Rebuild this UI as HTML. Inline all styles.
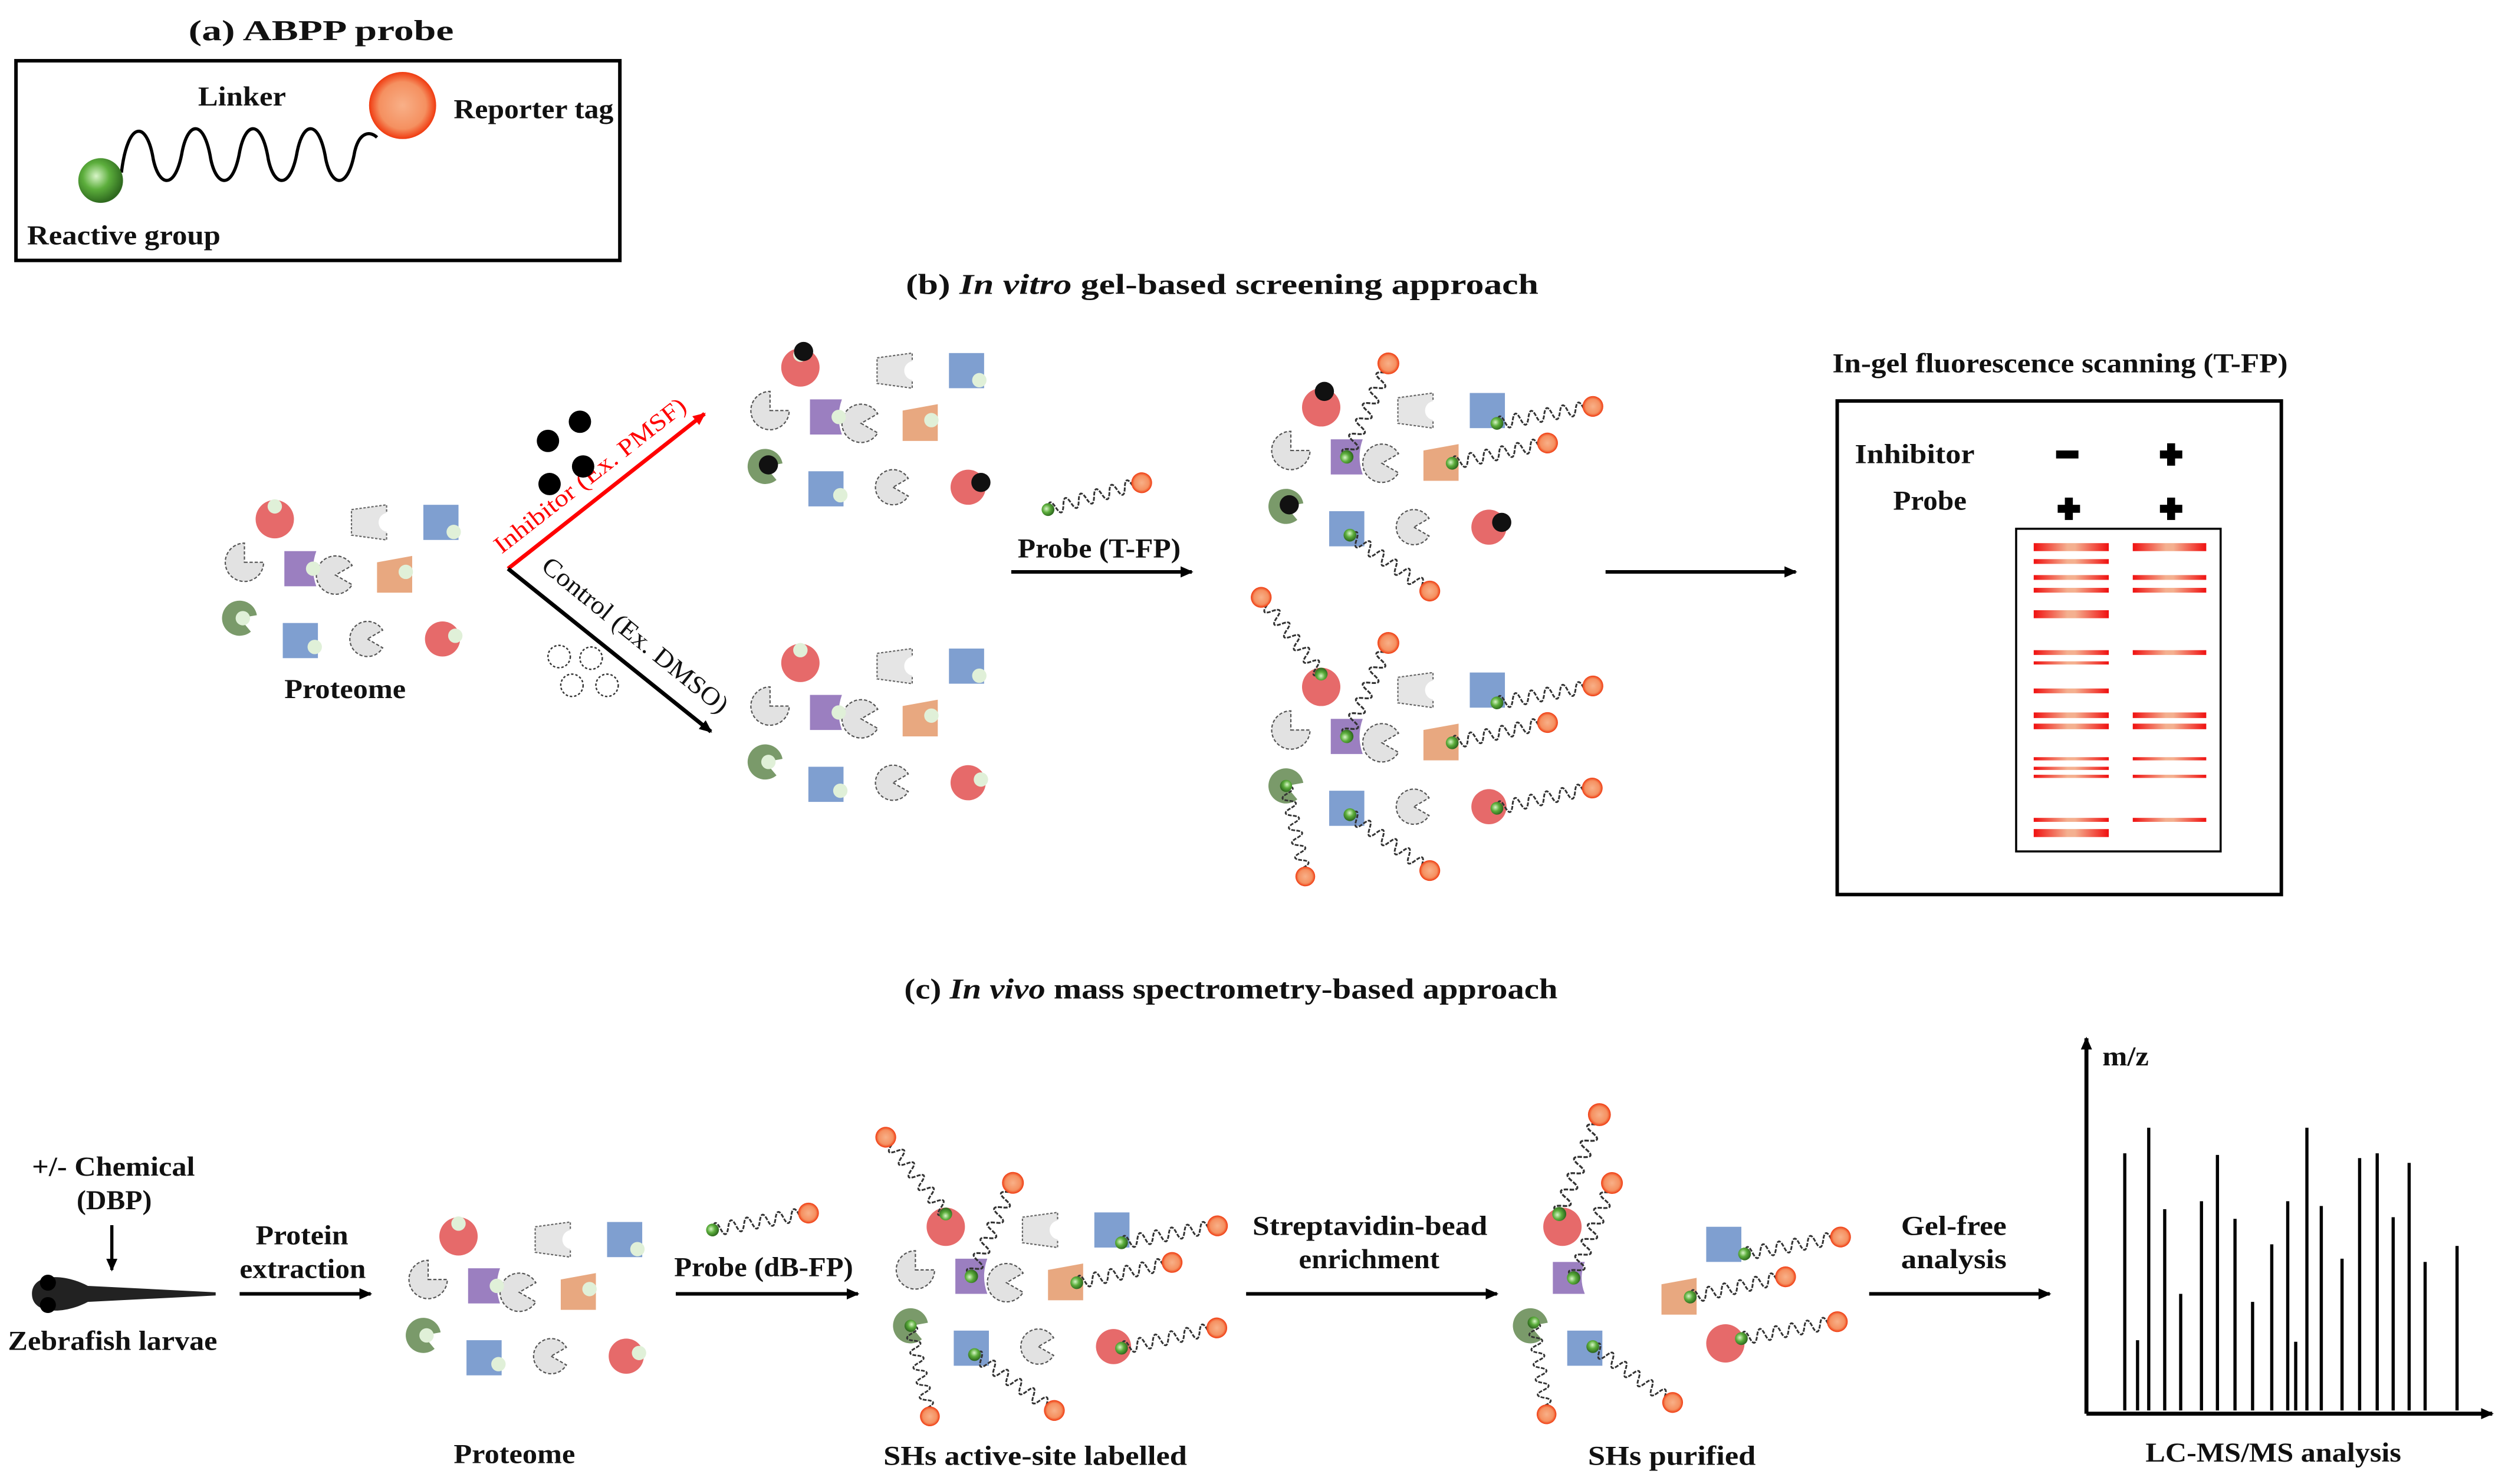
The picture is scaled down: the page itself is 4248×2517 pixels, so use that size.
<!DOCTYPE html>
<html><head><meta charset="utf-8"><style>
html,body{margin:0;padding:0;background:#fff;}
svg{display:block;}
text{font-family:"Liberation Serif",serif;font-weight:bold;fill:#111;}
</style></head><body>
<svg width="4248" height="2517" viewBox="0 0 1568 929" xmlns="http://www.w3.org/2000/svg">
<defs>
<radialGradient id="gg" cx="0.4" cy="0.4" r="0.6"><stop offset="0" stop-color="#d8f5c8"/><stop offset="0.5" stop-color="#5cae3c"/><stop offset="1" stop-color="#2f6a1f"/></radialGradient>
<radialGradient id="og" cx="0.5" cy="0.5" r="0.5"><stop offset="0" stop-color="#f8b088"/><stop offset="0.7" stop-color="#f59060"/><stop offset="1" stop-color="#f03a10"/></radialGradient>
<linearGradient id="band" x1="0" x2="1" y1="0" y2="0"><stop offset="0" stop-color="#f01010"/><stop offset="0.45" stop-color="#f4b090"/><stop offset="0.55" stop-color="#f4b090"/><stop offset="1" stop-color="#f01010"/></linearGradient>
<marker id="ah" markerWidth="8" markerHeight="8" refX="7" refY="4" orient="auto" markerUnits="userSpaceOnUse"><path d="M0,0.5 L8,4 L0,7.5 Z" fill="#000"/></marker>
<marker id="ahr" markerWidth="8" markerHeight="8" refX="7" refY="4" orient="auto" markerUnits="userSpaceOnUse"><path d="M0,0.5 L8,4 L0,7.5 Z" fill="#f00"/></marker>
<g id="pr">
<path d="M0,0 q2.5,-8 5,0 t5,0 t5,0 t5,0 t5,0 t5,0 t5,0 t5,0 t5,0 t5,0 t5,0" fill="none" stroke="#333" stroke-width="1.1" stroke-dasharray="2.5 0.8"/>
<circle cx="61" cy="0" r="6.5" fill="url(#og)"/>
<circle cx="0" cy="0" r="4" fill="url(#gg)"/>
</g>
<g id="colored">
<circle cx="0" cy="0" r="12" fill="#e66a6a"/>
<rect x="93" y="-9" width="22" height="22" fill="#7f9fd0"/>
<path d="M6,20 L26,20 Q22,31 26,42 L6,42 Z" fill="#9b7fc0"/>
<path d="M64,27 L86,23 L86,46 L64,46 Z" fill="#e8a880"/>
<path d="M-22,62 L-12.5,67.5 A11,11 0 1 1 -12.5,56.5 Z" fill="#7a9a6a" transform="rotate(20 -22 62)"/>
<rect x="5" y="65" width="22" height="22" fill="#7f9fd0"/>
<circle cx="105" cy="75" r="11" fill="#e66a6a"/>
</g>
<g id="gray">
<path d="M48,-6 L70,-9 L70,13 L48,10 Z" fill="#e5e5e5" stroke="#666" stroke-width="0.8" stroke-dasharray="1.5 1"/>
<circle cx="71" cy="2" r="6" fill="#fff"/>
<path d="M-19,27 L-7,27 A12,12 0 1 1 -19,15 Z" fill="#e2e2e2" stroke="#555" stroke-width="0.8" stroke-dasharray="2 1.2"/>
<path d="M38,35 L48.4,41 A12,12 0 1 1 48.4,29 Z" fill="#e2e2e2" stroke="#555" stroke-width="0.8" stroke-dasharray="2 1.2"/>
<path d="M58,75 L67.5,80.5 A11,11 0 1 1 67.5,69.5 Z" fill="#e2e2e2" stroke="#555" stroke-width="0.8" stroke-dasharray="2 1.2"/>
</g>
<g id="dots">
<circle cx="0" cy="-8" r="4.5" fill="#e0f0d8"/><circle cx="112" cy="8" r="4.5" fill="#e0f0d8"/>
<circle cx="24" cy="31" r="4.5" fill="#e0f0d8"/><circle cx="82" cy="33" r="4.5" fill="#e0f0d8"/>
<circle cx="-20" cy="62" r="4.5" fill="#e0f0d8"/><circle cx="25" cy="80" r="4.5" fill="#e0f0d8"/>
<circle cx="113" cy="73" r="4.5" fill="#e0f0d8"/>
</g>
<g id="prot"><use href="#colored"/><use href="#gray"/><use href="#dots"/></g>
<g id="lab">
<use href="#colored"/><use href="#gray"/>
<use href="#pr" transform="translate(0,-8) rotate(-128)"/>
<use href="#pr" transform="translate(16,31) rotate(-66) scale(1.05)"/>
<use href="#pr" transform="translate(110,10) rotate(-10)"/>
<use href="#pr" transform="translate(82,35) rotate(-12)"/>
<use href="#pr" transform="translate(18,80) rotate(35)"/>
<use href="#pr" transform="translate(110,76) rotate(-12)"/>
<use href="#pr" transform="translate(-22,62) rotate(78) scale(0.95)"/>
</g>
<g id="inh">
<use href="#colored"/><use href="#gray"/>
<use href="#pr" transform="translate(16,31) rotate(-66) scale(1.05)"/>
<use href="#pr" transform="translate(110,10) rotate(-10)"/>
<use href="#pr" transform="translate(82,35) rotate(-12)"/>
<use href="#pr" transform="translate(18,80) rotate(35)"/>
<circle cx="2" cy="-10" r="6" fill="#111"/><circle cx="-20" cy="61" r="6" fill="#111"/><circle cx="113" cy="72" r="6" fill="#111"/>
</g>
<g id="inh0">
<use href="#colored"/><use href="#gray"/>
<circle cx="0" cy="-8" r="4.5" fill="#e0f0d8"/><circle cx="112" cy="8" r="4.5" fill="#e0f0d8"/>
<circle cx="24" cy="31" r="4.5" fill="#e0f0d8"/><circle cx="82" cy="33" r="4.5" fill="#e0f0d8"/>
<circle cx="25" cy="80" r="4.5" fill="#e0f0d8"/>
<circle cx="2" cy="-10" r="6" fill="#111"/><circle cx="-20" cy="61" r="6" fill="#111"/><circle cx="113" cy="72" r="6" fill="#111"/>
</g>
</defs>

<!-- (a) -->
<text x="118" y="25" font-size="18" textLength="166" lengthAdjust="spacingAndGlyphs">(a) ABPP probe</text>
<rect x="10" y="38" width="378" height="125" fill="none" stroke="#000" stroke-width="2.2"/>
<text x="124" y="66" font-size="17" textLength="55" lengthAdjust="spacingAndGlyphs">Linker</text>
<text x="284" y="74" font-size="17" textLength="100" lengthAdjust="spacingAndGlyphs">Reporter tag</text>
<text x="17" y="153" font-size="17" textLength="121" lengthAdjust="spacingAndGlyphs">Reactive group</text>
<path d="M76,108 C80,75 92,75 96,100 C100,118 110,118 114,95 C118,75 128,75 132,100 C136,118 146,118 150,95 C154,75 164,75 168,100 C172,118 182,118 186,95 C190,75 200,75 204,100 C208,118 218,118 222,95 C225,82 232,82 236,86" fill="none" stroke="#000" stroke-width="2"/>
<circle cx="63" cy="113" r="14" fill="url(#gg)"/>
<circle cx="252" cy="66" r="21" fill="url(#og)"/>

<!-- (b) -->
<text x="567" y="184" font-size="18" textLength="396" lengthAdjust="spacingAndGlyphs">(b) <tspan font-style="italic">In vitro</tspan> gel-based screening approach</text>
<use href="#prot" transform="translate(172,325)"/>
<text x="178" y="437" font-size="17" textLength="76" lengthAdjust="spacingAndGlyphs">Proteome</text>
<line x1="318" y1="356" x2="441" y2="259" stroke="#f00" stroke-width="2.5" marker-end="url(#ahr)"/>
<line x1="318" y1="356" x2="445" y2="458" stroke="#000" stroke-width="2.5" marker-end="url(#ah)"/>
<text transform="translate(314,347) rotate(-38)" font-size="15" textLength="148" lengthAdjust="spacingAndGlyphs" style="font-weight:normal;fill:#f00">Inhibitor (Ex. PMSF)</text>
<text transform="translate(338,356) rotate(39)" font-size="16" textLength="145" lengthAdjust="spacingAndGlyphs" style="font-weight:normal">Control (Ex. DMSO)</text>
<circle cx="343" cy="276" r="7" fill="#000"/><circle cx="363" cy="264" r="7" fill="#000"/><circle cx="365" cy="292" r="7" fill="#000"/><circle cx="344" cy="303" r="7" fill="#000"/>
<g fill="none" stroke="#333" stroke-dasharray="1.5 1.2" stroke-width="0.9"><circle cx="350" cy="411" r="7"/><circle cx="370" cy="412" r="7"/><circle cx="358" cy="429" r="7"/><circle cx="380" cy="429" r="7"/></g>
<use href="#inh0" transform="translate(501,230)"/>
<use href="#prot" transform="translate(501,415)"/>
<use href="#pr" transform="translate(656,319) rotate(-16)"/>
<line x1="633" y1="358" x2="746" y2="358" stroke="#000" stroke-width="2.2" marker-end="url(#ah)"/>
<text x="637" y="349" font-size="17" textLength="102" lengthAdjust="spacingAndGlyphs">Probe (T-FP)</text>
<use href="#inh" transform="translate(827,255)"/>
<use href="#lab" transform="translate(827,430)"/>
<line x1="1005" y1="358" x2="1124" y2="358" stroke="#000" stroke-width="2.2" marker-end="url(#ah)"/>
<text x="1147" y="233" font-size="17" textLength="285" lengthAdjust="spacingAndGlyphs">In-gel fluorescence scanning (T-FP)</text>
<rect x="1150" y="251" width="278" height="309" fill="none" stroke="#000" stroke-width="2.2"/>
<text x="1161" y="290" font-size="17" textLength="75" lengthAdjust="spacingAndGlyphs">Inhibitor</text>
<text x="1185" y="319" font-size="17" textLength="46" lengthAdjust="spacingAndGlyphs">Probe</text>
<rect x="1287" y="282" width="14" height="5" fill="#000"/>
<g fill="#000"><rect x="1352" y="282" width="14" height="5"/><rect x="1356.5" y="277.5" width="5" height="14"/>
<rect x="1288" y="316" width="14" height="5"/><rect x="1292.5" y="311.5" width="5" height="14"/>
<rect x="1352" y="316" width="14" height="5"/><rect x="1356.5" y="311.5" width="5" height="14"/></g>
<rect x="1262" y="331" width="128" height="202" fill="none" stroke="#000" stroke-width="1.3"/>
<g fill="url(#band)">
<rect x="1273" y="340" width="47" height="5"/><rect x="1273" y="350" width="47" height="3"/><rect x="1273" y="360" width="47" height="3"/><rect x="1273" y="368" width="47" height="3"/><rect x="1273" y="382" width="47" height="5"/>
<rect x="1273" y="407" width="47" height="3"/><rect x="1273" y="414" width="47" height="2"/><rect x="1273" y="431" width="47" height="3"/><rect x="1273" y="446" width="47" height="3.5"/><rect x="1273" y="453" width="47" height="3.5"/>
<rect x="1273" y="474" width="47" height="2"/><rect x="1273" y="480" width="47" height="2"/><rect x="1273" y="485" width="47" height="2"/><rect x="1273" y="512" width="47" height="2.5"/><rect x="1273" y="519" width="47" height="5"/>
<rect x="1335" y="340" width="46" height="5"/><rect x="1335" y="360" width="46" height="3"/><rect x="1335" y="368" width="46" height="3"/><rect x="1335" y="407" width="46" height="3"/>
<rect x="1335" y="446" width="46" height="3.5"/><rect x="1335" y="453" width="46" height="3.5"/><rect x="1335" y="474" width="46" height="2"/><rect x="1335" y="485" width="46" height="2"/><rect x="1335" y="512" width="46" height="2.5"/>
</g>

<!-- (c) -->
<text x="566" y="625" font-size="18" textLength="409" lengthAdjust="spacingAndGlyphs">(c) <tspan font-style="italic">In vivo</tspan> mass spectrometry-based approach</text>
<text x="20" y="736" font-size="17" textLength="102" lengthAdjust="spacingAndGlyphs">+/- Chemical</text>
<text x="48" y="757" font-size="17" textLength="47" lengthAdjust="spacingAndGlyphs">(DBP)</text>
<line x1="70" y1="767" x2="70" y2="795" stroke="#000" stroke-width="2" marker-end="url(#ah)"/>
<path d="M20,810 C20,797 40,797 55,805 L135,809 L135,811 L55,815 C40,823 20,823 20,810 Z" fill="#222"/>
<circle cx="30" cy="803" r="5" fill="#000"/><circle cx="30" cy="817" r="5" fill="#000"/>
<text x="5" y="845" font-size="17" textLength="131" lengthAdjust="spacingAndGlyphs">Zebrafish larvae</text>
<line x1="150" y1="810" x2="232" y2="810" stroke="#000" stroke-width="2.2" marker-end="url(#ah)"/>
<text x="160" y="779" font-size="17" textLength="58" lengthAdjust="spacingAndGlyphs">Protein</text>
<text x="150" y="800" font-size="17" textLength="79" lengthAdjust="spacingAndGlyphs">extraction</text>
<use href="#prot" transform="translate(287,774)"/>
<text x="284" y="916" font-size="17" textLength="76" lengthAdjust="spacingAndGlyphs">Proteome</text>
<use href="#pr" transform="translate(446,770) rotate(-10)"/>
<line x1="423" y1="810" x2="537" y2="810" stroke="#000" stroke-width="2.2" marker-end="url(#ah)"/>
<text x="422" y="799" font-size="17" textLength="112" lengthAdjust="spacingAndGlyphs">Probe (dB-FP)</text>
<use href="#lab" transform="translate(592,768)"/>
<text x="553" y="917" font-size="17" textLength="190" lengthAdjust="spacingAndGlyphs">SHs active-site labelled</text>
<line x1="780" y1="810" x2="937" y2="810" stroke="#000" stroke-width="2.2" marker-end="url(#ah)"/>
<text x="784" y="773" font-size="17" textLength="147" lengthAdjust="spacingAndGlyphs">Streptavidin-bead</text>
<text x="813" y="794" font-size="17" textLength="88" lengthAdjust="spacingAndGlyphs">enrichment</text>
<!-- purified -->
<g>
<circle cx="978" cy="768" r="12" fill="#e66a6a"/>
<path d="M972,790 L992,790 Q988,800 992,810 L972,810 Z" fill="#9b7fc0"/>
<path d="M958,830 L967.5,835.5 A11,11 0 1 1 967.5,824.5 Z" fill="#7a9a6a" transform="rotate(20 958 830)"/>
<rect x="981" y="833" width="22" height="22" fill="#7f9fd0"/>
<rect x="1068" y="768" width="22" height="22" fill="#7f9fd0"/>
<path d="M1040,804 L1062,800 L1062,823 L1040,823 Z" fill="#e8a880"/>
<circle cx="1080" cy="841" r="12" fill="#e66a6a"/>
<use href="#pr" transform="translate(976,760) rotate(-68) scale(1.1)"/>
<use href="#pr" transform="translate(985,800) rotate(-68) scale(1.05)"/>
<use href="#pr" transform="translate(1092,785) rotate(-10)"/>
<use href="#pr" transform="translate(1058,812) rotate(-12)"/>
<use href="#pr" transform="translate(1090,838) rotate(-10)"/>
<use href="#pr" transform="translate(960,828) rotate(82) scale(0.95)"/>
<use href="#pr" transform="translate(997,843) rotate(35)"/>
</g>
<text x="994" y="917" font-size="17" textLength="105" lengthAdjust="spacingAndGlyphs">SHs purified</text>
<line x1="1170" y1="810" x2="1283" y2="810" stroke="#000" stroke-width="2.2" marker-end="url(#ah)"/>
<text x="1190" y="773" font-size="17" textLength="66" lengthAdjust="spacingAndGlyphs">Gel-free</text>
<text x="1190" y="794" font-size="17" textLength="66" lengthAdjust="spacingAndGlyphs">analysis</text>
<line x1="1306" y1="885" x2="1306" y2="650" stroke="#000" stroke-width="2.5" marker-end="url(#ah)"/>
<line x1="1306" y1="885" x2="1560" y2="885" stroke="#000" stroke-width="2.5" marker-end="url(#ah)"/>
<text x="1316" y="667" font-size="17" textLength="29" lengthAdjust="spacingAndGlyphs">m/z</text>
<g stroke="#000" stroke-width="2">
<line x1="1330" y1="722" x2="1330" y2="883"/><line x1="1338" y1="839" x2="1338" y2="883"/><line x1="1345" y1="706" x2="1345" y2="883"/><line x1="1355" y1="757" x2="1355" y2="883"/><line x1="1365" y1="810" x2="1365" y2="883"/><line x1="1378" y1="752" x2="1378" y2="883"/><line x1="1388" y1="723" x2="1388" y2="883"/><line x1="1399" y1="763" x2="1399" y2="883"/><line x1="1410" y1="815" x2="1410" y2="883"/><line x1="1422" y1="779" x2="1422" y2="883"/><line x1="1432" y1="752" x2="1432" y2="883"/><line x1="1437" y1="840" x2="1437" y2="883"/><line x1="1444" y1="706" x2="1444" y2="883"/><line x1="1453" y1="755" x2="1453" y2="883"/><line x1="1466" y1="788" x2="1466" y2="883"/><line x1="1477" y1="725" x2="1477" y2="883"/><line x1="1488" y1="722" x2="1488" y2="883"/><line x1="1498" y1="762" x2="1498" y2="883"/><line x1="1508" y1="728" x2="1508" y2="883"/><line x1="1518" y1="790" x2="1518" y2="883"/><line x1="1538" y1="780" x2="1538" y2="883"/>
</g>
<text x="1343" y="915" font-size="17" textLength="160" lengthAdjust="spacingAndGlyphs">LC-MS/MS analysis</text>
</svg>
</body></html>
